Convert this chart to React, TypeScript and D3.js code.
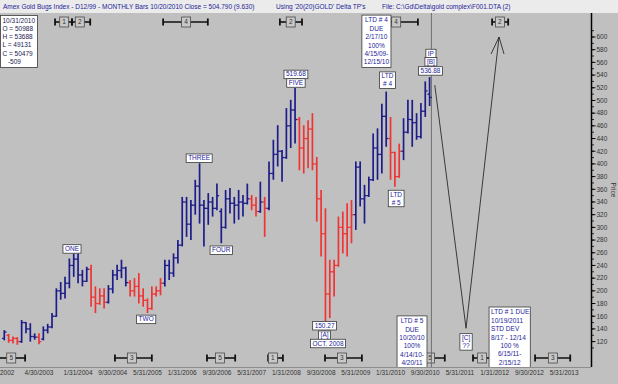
import React from "react";
import * as d3 from "d3";

// month index counted from Jan 2002 = 0 ; first bar = Aug 2002
const FIRST_MONTH = 7;

const opens = [125,130,122,125,120,150,140,128,127,124,138,143,160,200,196,212,240,250,225,215,
  234,190,180,192,182,203,225,232,236,213,200,207,192,185,172,195,200,212,240,228,
  252,272,340,305,335,365,335,330,340,330,325,300,345,338,335,340,338,345,335,325,
  340,330,385,415,420,410,460,485,470,425,440,455,400,345,290,195,230,240,300,290,
  300,320,395,345,350,375,425,415,475,440,418,380,420,450,470,465,443,483,509.88];
const highs = [138,132,128,127,154,151,149,133,133,144,148,165,204,214,222,251,259,259,233,238,
  241,207,204,204,209,233,241,249,238,217,220,228,204,188,207,207,220,249,249,259,
  280,348,348,343,375,401,343,354,348,369,330,359,362,348,359,351,369,351,348,372,
  348,404,438,461,422,488,501,519.68,474,461,469,480,411,359,330,249,249,317,325,338,
  343,404,404,367,380,448,456,495,514,474,419,432,472,501,501,480,496,530,536.88];
const lows = [122,118,117,115,118,133,120,123,116,122,133,141,159,186,188,204,222,212,207,214,
  175,165,178,172,180,196,217,220,207,191,191,180,175,165,170,191,193,207,217,222,
  243,270,285,280,320,306,270,304,317,327,275,298,322,306,312,317,336,327,317,323,
  285,327,375,396,372,408,425,432,390,385,393,390,309,254,150.27,157,191,238,259,254,
  275,296,333,306,348,373,375,385,427,375,364,378,406,448,427,438,440,474,491.31];
const closes = [135,122,125,120,150,140,128,127,120,138,143,160,200,196,212,240,250,225,215,234,
  190,180,192,182,203,225,232,236,213,200,207,192,185,172,195,200,212,240,228,252,
  272,340,305,335,365,335,330,340,330,350,300,345,338,335,340,338,345,335,325,340,
  330,385,415,420,410,460,485,470,425,440,455,400,345,290,195,230,240,300,290,300,
  320,395,345,350,375,425,415,475,440,418,380,420,450,470,465,443,483,515,504.79];
// b = blue (up-trend), r = red (down-trend)
const trend = ("b" + "rrr" + "bbbb" + "r" + "bbbbbbbbbbb" + "rrrr" + "bbbbb" + "rrrrrrrr" +
  "bbbbbbbbbbbbbbbbbbbb" + "rr" + "b" + "r" + "bbbbbbb" + "rrrrrrrrrrrrr" + "bbbbbbbb" +
  "rrr" + "bbbbbbb").split("");

const PEAK_MONTH = 74;   // Mar 2008 high (FIVE)
const TROUGH_MONTH = 81; // Oct 2008 low ([A])

const dateTickMonths = [6, 15, 24, 32, 40, 48, 56, 64, 72, 80, 88, 96, 104, 112, 120, 128, 136];
const dateTickLabels = ["7/31/2002", "4/30/2003", "1/31/2004", "9/30/2004", "5/31/2005", "1/31/2006",
  "9/30/2006", "5/31/2007", "1/31/2008", "9/30/2008", "5/31/2009", "1/31/2010", "9/30/2010",
  "5/31/2011", "1/31/2012", "9/30/2012", "5/31/2013"];
const priceTicks = d3.range(120, 601, 20);
const priceMinorTicks = d3.range(110, 611, 10);

// wave / point labels (anchored in month, price)
const labelTexts = [["ONE"], ["TWO"], ["THREE"], ["FOUR"], ["HIGH"], ["FIVE"], ["LTD", "# 4"], ["LTD", "# 5"],
  ["LOW"], ["[A]"], ["OCT. 2008"], ["IP"], ["[B]"], ["LAST"], ["[C]", "??"]];
const labelMonths = [22.6, 39.7, 51.9, 57, 74.2, 74.2, 95.3, 97.3, 80.8, 80.8, 81.6, 105.3, 105.3, 105.2, 113.4];
const labelPrices = [266, 155, 409, 264, 541, 527.5, 532, 345.5, 145, 130, 117, 574, 561, 546.5, 119.5];

// "DUE" boxes
const dueLines = [
  ["LTD # 4", "DUE", "2/17/10", "100%", "4/15/09-", "12/15/10"],
  ["LTD # 5", "DUE", "10/20/10", "100%", "4/14/10-", "4/20/11"],
  ["LTD # 1 DUE", "10/19/2011", "STD DEV", "8/17 - 12/14", "100 %", "6/15/11-", "2/15/12"],
];
const dueFromMonth = [89.4, 97.5, 118.7];
const dueToMonth = [96.1, 104.4, 128.2];
const dueTopPrice = [634.5, 160.5, 174.5];
const dueLeftLines = [0, 0, 4];

// time-cycle markers
const topCycleNum = ["1", "2", "4", "2", "4", "2"];
const topCycleFrom = [18.7, 22.6, 43.6, 70.5, 91.5, 119.4];
const topCycleTo = [22.6, 26.8, 53.9, 75.6, 102.3, 123.1];
const topCycleBox = [20.8, 24.4, 48.9, 73.0, 97.3, 121.2];
const botCycleNum = ["5", "3", "5", "1", "3", "5", "1", "3"];
const botCycleFrom = [5.6, 32.5, 53.7, 67.8, 80.9, 100.5, 115.0, 129.3];
const botCycleTo = [11.8, 41.0, 60.2, 71.2, 89.4, 108.5, 120.5, 137.4];
const botCycleBox = [8.6, 36.4, 56.7, 68.9, 84.8, 105.1, 117.1, 133.4];

// projected path
const projMonths = [106.2, 113.4, 121.0];
const projPrices = [524, 141, 600];

const W = 618, H = 384;
const PLOT = { left: 0, right: 591, top: 13, bottom: 367 };
const FONT = "'Liberation Sans', Arial, sans-serif";
const FS = 6.5;
const BLUE = "#1c1c8a";
const RED = "#f03434";
const TXT = "#24249a";

const x = d3.scaleLinear().domain([15, 136]).range([39, 39 + 121 * 4.34]);
const y = d3.scaleLinear().domain([120, 600]).range([341.6, 37]);

let _ctx: CanvasRenderingContext2D | null = null;
function tw(s: string, size = FS) {
  if (!_ctx) _ctx = document.createElement("canvas").getContext("2d");
  if (!_ctx) return s.length * size * 0.55;
  _ctx.font = `${size}px ${FONT}`;
  return _ctx.measureText(s).width;
}

export default function App() {
  const n = opens.length;
  const last = n - 1;
  const lastMonth = FIRST_MONTH + last;
  const fmt = (v: number) => v.toFixed(2);
  const resolve = (t: string) =>
    t === "HIGH" ? fmt(highs[PEAK_MONTH - FIRST_MONTH]) :
    t === "LOW" ? fmt(lows[TROUGH_MONTH - FIRST_MONTH]) :
    t === "LAST" ? fmt(highs[last]) : t;

  const info = [
    "10/31/2010",
    `O = ${Math.round(opens[last] * 100)}`,
    `H = ${Math.round(highs[last] * 100)}`,
    `L = ${Math.round(lows[last] * 100)}`,
    `C = ${Math.round(closes[last] * 100)}`,
    `   ${Math.round((closes[last] - opens[last]) * 100)}`,
  ];

  const lineGen = d3.line<number>().x((_, i) => x(projMonths[i])).y((_, i) => y(projPrices[i]));
  const tip = [x(projMonths[2]), y(projPrices[2])];

  const cycle = (num: string, a: number, b: number, c: number, cy: number, key: string) => (
    <g key={key}>
      <line x1={x(a)} x2={x(b)} y1={cy} y2={cy} stroke="#111" strokeWidth={1.6} />
      <line x1={x(a)} x2={x(a)} y1={cy - 3.5} y2={cy + 3.5} stroke="#111" strokeWidth={1.8} />
      <line x1={x(b)} x2={x(b)} y1={cy - 3.5} y2={cy + 3.5} stroke="#111" strokeWidth={1.8} />
      <rect x={x(c) - 4.5} y={cy - 5} width={9} height={10} fill="#c8c8c8" stroke="#4a4a4a" strokeWidth={0.8} />
      <text x={x(c)} y={cy + 2.3} fontSize={FS} textAnchor="middle" fill="#333">{num}</text>
    </g>
  );

  return (
    <svg width={W} height={H} style={{ position: "absolute", left: 0, top: 0, display: "block" }} fontFamily={FONT}>
      <defs>
        <clipPath id="plotclip">
          <rect x={PLOT.left} y={PLOT.top} width={PLOT.right - PLOT.left} height={PLOT.bottom - PLOT.top} />
        </clipPath>
      </defs>
      <rect width={W} height={H} fill="#c0c0c0" />
      <rect width={W} height={PLOT.top} fill="#ebebeb" />
      <text x={3} y={9} fontSize={FS} fill={TXT}>
        Amex Gold Bugs Index - D12/99  - MONTHLY Bars  10/20/2010 Close = 504.790 (9.630)
      </text>
      <text x={276} y={9} fontSize={FS} fill={TXT}>Using '20(20)GOLD' Delta TP's</text>
      <text x={382} y={9} fontSize={FS} fill={TXT}>File: C:\Gd\Delta\gold complex\F001.DTA (2)</text>

      <g clipPath="url(#plotclip)">
        {/* cycle markers */}
        {topCycleNum.map((t, i) => cycle(t, topCycleFrom[i], topCycleTo[i], topCycleBox[i], 22, "t" + i))}
        {botCycleNum.map((t, i) => cycle(t, botCycleFrom[i], botCycleTo[i], botCycleBox[i], 358, "b" + i))}

        {/* current bar vertical line */}
        <line x1={x(lastMonth) + 1.8} x2={x(lastMonth) + 1.8} y1={PLOT.top} y2={PLOT.bottom} stroke="#6e6e6e" strokeWidth={1} />

        {/* bars */}
        {opens.map((o, i) => {
          const cx = x(FIRST_MONTH + i);
          const col = trend[i] === "r" ? RED : BLUE;
          return (
            <g key={"bar" + i} stroke={col} strokeWidth={1.7}>
              <line x1={cx} x2={cx} y1={y(highs[i])} y2={y(lows[i])} />
              <line x1={cx - 2.2} x2={cx} y1={y(o)} y2={y(o)} strokeWidth={1.3} />
              <line x1={cx} x2={cx + 2.2} y1={y(closes[i])} y2={y(closes[i])} strokeWidth={1.3} />
            </g>
          );
        })}

        {/* projection path */}
        <path d={lineGen(projMonths) || ""} fill="none" stroke="#2a2a2a" strokeWidth={0.9} />
        <line x1={tip[0]} y1={tip[1]} x2={tip[0] - 8} y2={tip[1] + 17} stroke="#2a2a2a" strokeWidth={0.9} />
        <line x1={tip[0]} y1={tip[1]} x2={tip[0] + 5} y2={tip[1] + 17} stroke="#2a2a2a" strokeWidth={0.9} />

        {/* wave labels */}
        {labelTexts.map((lines, i) => {
          const txts = lines.map(resolve);
          const w = (d3.max(txts, (s) => tw(s)) as number) + 4;
          const h = txts.length * 8 + 0.5;
          const cx = x(labelMonths[i]);
          const cy = y(labelPrices[i]);
          return (
            <g key={"lab" + i}>
              <rect x={cx - w / 2} y={cy - h / 2} width={w} height={h} fill="#fff" stroke="#3a3a3a" strokeWidth={0.8} />
              {txts.map((s, j) => (
                <text key={j} x={cx} y={cy - h / 2 + 6.3 + j * 8} fontSize={FS} textAnchor="middle" fill={TXT}>{s}</text>
              ))}
            </g>
          );
        })}

        {/* DUE boxes */}
        {dueLines.map((lines, i) => {
          const x0 = x(dueFromMonth[i]);
          const x1 = x(dueToMonth[i]);
          const y0 = y(dueTopPrice[i]);
          const h = lines.length * 8.4 + 2;
          return (
            <g key={"due" + i}>
              <rect x={x0} y={y0} width={x1 - x0} height={h} fill="#fff" stroke="#3a3a3a" strokeWidth={0.8} />
              {lines.map((s, j) => {
                const left = j < dueLeftLines[i];
                return (
                  <text key={j} x={left ? x0 + 2 : (x0 + x1) / 2} y={y0 + 7.3 + j * 8.4} fontSize={FS}
                    textAnchor={left ? "start" : "middle"} fill={TXT}>{s}</text>
                );
              })}
            </g>
          );
        })}

        {/* info box */}
        <rect x={0.5} y={15.5} width={37} height={52} fill="#fff" stroke="#3a3a3a" strokeWidth={0.8} />
        {info.map((s, i) => (
          <text key={"inf" + i} x={2.5} y={22.5 + i * 8.3} fontSize={FS} fill="#1a1a50" xmlSpace="preserve">{s}</text>
        ))}
      </g>

      {/* right price axis */}
      <line x1={PLOT.right + 0.5} x2={PLOT.right + 0.5} y1={PLOT.top} y2={PLOT.bottom} stroke="#000" strokeWidth={1.5} />
      {priceMinorTicks.map((p) => (
        <line key={"mt" + p} x1={PLOT.right} x2={PLOT.right + 3} y1={y(p)} y2={y(p)} stroke="#000" strokeWidth={0.8} />
      ))}
      {priceTicks.map((p) => (
        <g key={"pt" + p}>
          <line x1={PLOT.right} x2={PLOT.right + 4.5} y1={y(p)} y2={y(p)} stroke="#000" strokeWidth={0.9} />
          <text x={PLOT.right + 5.5} y={y(p) + 2.3} fontSize={FS} fill="#333">{p}</text>
        </g>
      ))}
      <text transform={`translate(611,190) rotate(90)`} fontSize={FS} textAnchor="middle" fill="#333">Price</text>

      {/* date axis */}
      <line x1={0} x2={PLOT.right} y1={PLOT.bottom + 0.5} y2={PLOT.bottom + 0.5} stroke="#808080" strokeWidth={0.8} />
      {dateTickMonths.map((m, i) => (
        <text key={"dt" + i} x={x(m)} y={375} fontSize={FS} textAnchor="middle" fill="#333">{dateTickLabels[i]}</text>
      ))}
    </svg>
  );
}
